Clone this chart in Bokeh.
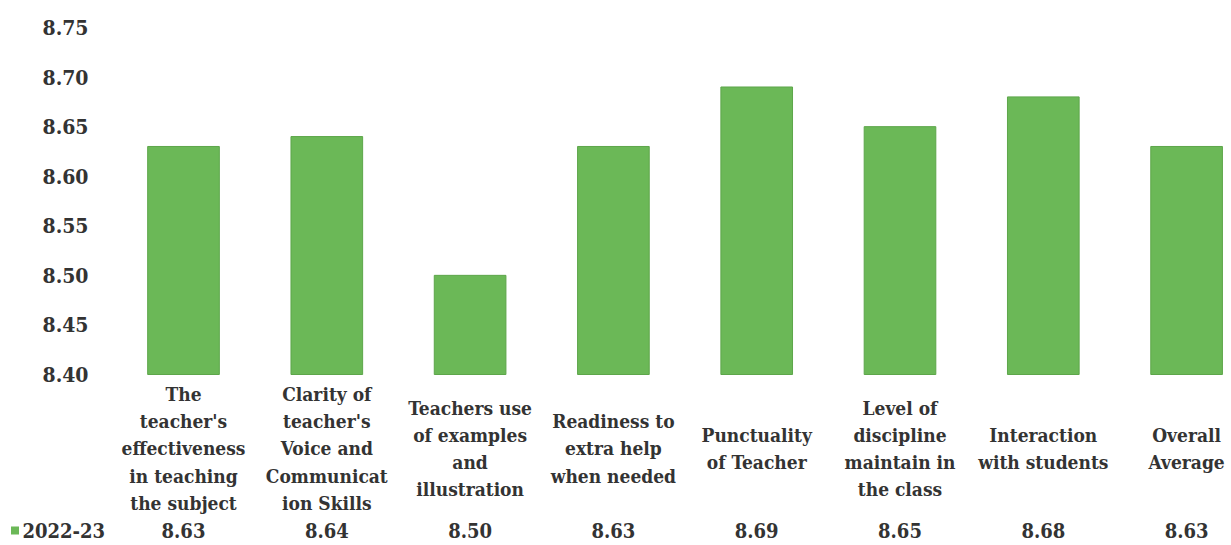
from bokeh.plotting import figure
from bokeh.models import Range1d, ColumnDataSource
from bokeh.core.properties import value
from bokeh.embed import file_html
from bokeh.resources import INLINE

categories = [
    "The\nteacher's\neffectiveness\nin teaching\nthe subject",
    "Clarity of\nteacher's\nVoice and\nCommunicat\nion Skills",
    "Teachers use\nof examples\nand\nillustration",
    "Readiness to\nextra help\nwhen needed",
    "Punctuality\nof Teacher",
    "Level of\ndiscipline\nmaintain in\nthe class",
    "Interaction\nwith students",
    "Overall\nAverage",
]
series_name = "2022-23"
values = [8.63, 8.64, 8.50, 8.63, 8.69, 8.65, 8.68, 8.63]
y_ticks = [8.40, 8.45, 8.50, 8.55, 8.60, 8.65, 8.70, 8.75]
axis_min = 8.40

FONT = "DejaVu Serif Condensed"
TXT = "#333333"
GREEN = "#6bb857"

idx = list(range(len(categories)))
src = ColumnDataSource(dict(
    x=idx, top=values, cat=categories,
    lab=[f"{v:.2f}" for v in values],
))
tick_src = ColumnDataSource(dict(y=y_ticks, lab=[f"{t:.2f}" for t in y_ticks]))

W, H = 1231, 545
ppu = (374 - 27) / 0.35
y_top = 8.75 + 27 / ppu
y_bot = 8.40 - (H - 374) / ppu
cat_y = 8.40 - (448 - 374) / ppu
row_y = 8.40 - (530 - 374) / ppu
step = 143.3
x0 = 183 / step
def px(xp):
    return xp / step - x0

p = figure(width=W, height=H, output_backend="svg", toolbar_location=None,
           x_range=Range1d(-x0, W / step - x0), y_range=Range1d(y_bot, y_top),
           min_border=0)
p.outline_line_color = None
p.grid.visible = False
p.axis.visible = False

p.vbar(x="x", top="top", bottom=axis_min, width=0.5, source=src,
       fill_color=GREEN, line_color="#5da64a", line_width=1)

# y tick labels
p.text(x=px(88), y="y", text="lab", source=tick_src, text_align="right", text_baseline="middle",
       text_font=value(FONT), text_font_style="bold", text_font_size="21px", text_color=TXT)

# category labels
p.text(x="x", y=cat_y, text="cat", source=src, text_align="center", text_baseline="middle",
       text_font=value(FONT), text_font_style="bold", text_font_size="19px",
       text_color=TXT, text_line_height=1.23)

# data table row
p.text(x="x", y=row_y, text="lab", source=src, text_align="center", text_baseline="middle",
       text_font=value(FONT), text_font_style="bold", text_font_size="20px", text_color=TXT)
p.scatter(x=[px(14.5)], y=[row_y], marker="square", size=8, fill_color=GREEN, line_color=None)
p.text(x=[px(22)], y=[row_y], text=[series_name], text_align="left", text_baseline="middle",
       text_font=value(FONT), text_font_style="bold", text_font_size="20px", text_color=TXT)

open("out.html", "w").write(file_html(p, INLINE))
